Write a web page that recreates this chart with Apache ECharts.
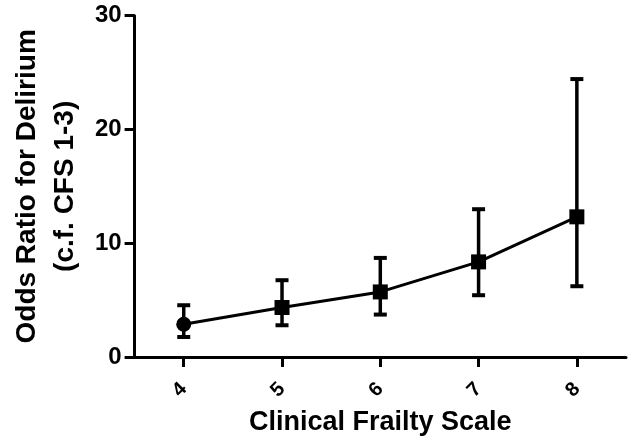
<!DOCTYPE html>
<html>
<head>
<meta charset="utf-8">
<script src="https://cdn.jsdelivr.net/npm/echarts@6/dist/echarts.min.js"></script>
<style>
html,body{margin:0;padding:0;background:#fff;}
#chart{width:629px;height:444px;}
</style>
</head>
<body>
<div id="chart"></div>
<script>
var categories = ['4', '5', '6', '7', '8'];
var oddsRatio = [2.88, 4.35, 5.72, 8.36, 12.32];
var ciLower = [1.76, 2.79, 3.73, 5.43, 6.22];
var ciUpper = [4.55, 6.75, 8.71, 12.99, 24.43];
var markerShapes = ['circle', 'rect', 'rect', 'rect', 'rect'];
var yTicks = [0, 10, 20, 30];

var FONT = '"Liberation Sans", Arial, Helvetica, sans-serif';
var chart = echarts.init(document.getElementById('chart'), null, {renderer: 'canvas'});

var lineData = oddsRatio.map(function (v, i) {
  return {value: v, symbol: markerShapes[i], symbolSize: markerShapes[i] === 'circle' ? 15 : 15};
});
var errData = categories.map(function (c, i) { return [i, ciLower[i], ciUpper[i]]; });

chart.setOption({
  animation: false,
  backgroundColor: '#ffffff',
  grid: {left: 114.5, right: 3, top: 15.7, bottom: 87, containLabel: false},
  xAxis: {
    type: 'category',
    data: categories,
    boundaryGap: true,
    name: 'Clinical Frailty Scale',
    nameLocation: 'middle',
    nameGap: 51,
    nameTextStyle: {fontFamily: FONT, fontWeight: 'bold', fontSize: 27, color: '#000', lineHeight: 30},
    axisLine: {show: true, lineStyle: {color: '#000', width: 3}},
    axisTick: {show: true, alignWithLabel: true, length: 10, lineStyle: {color: '#000', width: 3}},
    axisLabel: {rotate: 45, margin: 29, fontFamily: FONT, fontWeight: 'bold', fontSize: 20, color: '#000'},
    splitLine: {show: false}
  },
  yAxis: {
    type: 'value',
    min: yTicks[0],
    max: yTicks[yTicks.length - 1],
    interval: yTicks[1] - yTicks[0],
    name: 'Odds Ratio for Delirium\n(c.f. CFS 1-3)',
    nameLocation: 'middle',
    nameGap: 42,
    nameTextStyle: {fontFamily: FONT, fontWeight: 'bold', fontSize: 28, color: '#000', lineHeight: 38, align: 'center'},
    axisLine: {show: true, lineStyle: {color: '#000', width: 3}},
    axisTick: {show: true, length: 10, lineStyle: {color: '#000', width: 3}},
    axisLabel: {margin: 13, fontFamily: FONT, fontWeight: 'bold', fontSize: 24, color: '#000'},
    splitLine: {show: false}
  },
  series: [
    {
      type: 'custom',
      data: errData,
      z: 3,
      renderItem: function (params, api) {
        var x = api.value(0);
        var lo = api.coord([x, api.value(1)]);
        var hi = api.coord([x, api.value(2)]);
        var hw = 6.5;
        var style = {stroke: '#000', lineWidth: 3.5, fill: null};
        return {
          type: 'group',
          children: [
            {type: 'line', shape: {x1: lo[0], y1: lo[1], x2: hi[0], y2: hi[1]}, style: style},
            {type: 'line', shape: {x1: lo[0] - hw, y1: lo[1], x2: lo[0] + hw, y2: lo[1]}, style: {stroke: '#000', lineWidth: 4}},
            {type: 'line', shape: {x1: hi[0] - hw, y1: hi[1], x2: hi[0] + hw, y2: hi[1]}, style: {stroke: '#000', lineWidth: 4}}
          ]
        };
      }
    },
    {
      type: 'line',
      data: lineData,
      z: 4,
      lineStyle: {color: '#000', width: 3},
      itemStyle: {color: '#000', borderWidth: 0},
      showAllSymbol: true
    }
  ]
});
</script>
</body>
</html>
